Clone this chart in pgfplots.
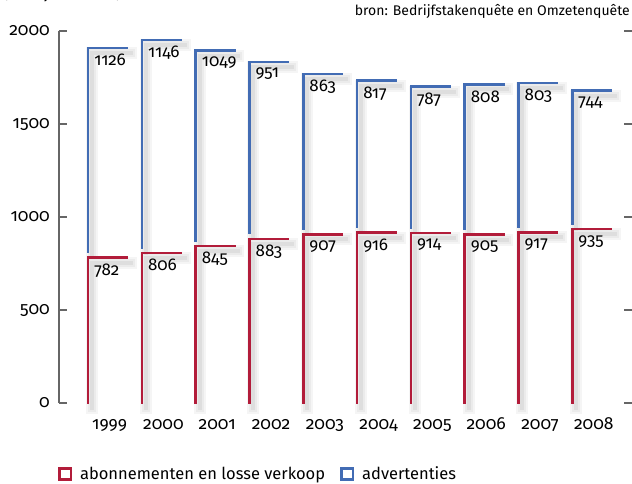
\documentclass[border=0pt]{standalone}
\usepackage{pgfplots}
\pgfplotsset{compat=1.18}
\usepackage{pgfplotstable}
\usepackage{fontspec}
\setmainfont{Fira Sans}[Numbers=OldStyle]
\definecolor{cbsred}{RGB}{178,28,58}
\definecolor{cbsblue}{RGB}{66,108,180}
\pgfplotstableread{
x year abon adv
0 1999 782 1126
1 2000 806 1146
2 2001 845 1049
3 2002 883 951
4 2003 907 863
5 2004 916 817
6 2005 914 787
7 2006 905 808
8 2007 917 803
9 2008 935 744
}\datatable
\pgfplotsset{
  bracket/.style 2 args={no markers, draw=none, forget plot,
    error bars/y dir=minus, error bars/y explicit, error bars/x dir=plus, error bars/x fixed=0.72,
    error bars/error mark=none,
    error bars/error bar style={draw=#2, line width=#1, line cap=rect}},
  shadow/.style={xshift=4pt, yshift=-5pt},
  lbl/.style={nodes near coords, point meta=explicit,
  every node near coord/.append style={anchor=north west, inner sep=0pt, xshift=6pt, yshift=-6pt,
    font=\fontsize{17}{20}\selectfont, color=black}},
}
\begin{document}
\begin{tikzpicture}[x=1pt,y=1pt]
\begin{axis}[
  at={(59pt,-403pt)}, anchor=south west,
  scale only axis, width=573pt, height=372pt,
  xmin=-0.54, xmax=10.11, ymin=0, ymax=2000,
  axis line style={draw=none},
  xtick={0.4,1.4,...,9.4},
  xticklabels={1999,2000,2001,2002,2003,2004,2005,2006,2007,2008},
  x tick style={draw=none},
  xticklabel style={anchor=base, yshift=-26pt},
  ytick={0,500,1000,1500,2000},
  ytick pos=both, yticklabel pos=left,
  tick align=inside,
  y tick style={gray!80!black, line width=1.2pt},
  major tick length=8pt,
  yticklabel style={inner sep=0pt, xshift=-9pt},
  /pgf/number format/assume math mode=true,
  /pgf/number format/set thousands separator={},
  tick label style={font=\fontsize{17.5}{20}\selectfont},
  clip=false,
  legend style={at={(axis description cs:-0.002,-0.191)}, anchor=west, draw=none, fill=none,
    font=\fontsize{16.5}{19}\selectfont, legend columns=2, inner sep=0pt,
    /tikz/every odd column/.append style={column sep=6pt},
    /tikz/every even column/.append style={column sep=13pt}},
  legend cell align=left,
]
% left axis line
\draw[gray!80!black, line width=1.5pt] (rel axis cs:0,0) -- (rel axis cs:0,1);
% shadows
\addplot[bracket={12pt}{black!4}, shadow] table[x=x, y=abon, y error expr=\thisrow{abon}] {\datatable};
\addplot[bracket={12pt}{black!4}, shadow] table[x=x, y expr=\thisrow{abon}+\thisrow{adv}, y error expr=\thisrow{adv}-30] {\datatable};
\addplot[bracket={8pt}{black!8}, shadow] table[x=x, y=abon, y error expr=\thisrow{abon}] {\datatable};
\addplot[bracket={8pt}{black!8}, shadow] table[x=x, y expr=\thisrow{abon}+\thisrow{adv}, y error expr=\thisrow{adv}-30] {\datatable};
\addplot[bracket={4pt}{black!13}, shadow] table[x=x, y=abon, y error expr=\thisrow{abon}] {\datatable};
\addplot[bracket={4pt}{black!13}, shadow] table[x=x, y expr=\thisrow{abon}+\thisrow{adv}, y error expr=\thisrow{adv}-30] {\datatable};
% red
\addplot[bracket={2.5pt}{cbsred}, lbl]
  table[x=x, y=abon, y error expr=\thisrow{abon}, meta=abon] {\datatable};
% blue
\addplot[bracket={2.5pt}{cbsblue}, lbl]
  table[x=x, y expr=\thisrow{abon}+\thisrow{adv}, y error expr=\thisrow{adv}-30, meta=adv] {\datatable};
\addlegendimage{legend image code/.code={\draw[cbsred, line width=2.5pt] (1.25pt,-5.5pt) rectangle (12.75pt,5.5pt);}}
\addlegendentry{abonnementen en losse verkoop}
\addlegendimage{legend image code/.code={\draw[cbsblue, line width=2.5pt] (1.25pt,-5.5pt) rectangle (12.75pt,5.5pt);}}
\addlegendentry{advertenties}
\end{axis}
\node[anchor=base east, inner sep=0pt, font=\fontsize{14}{16}\selectfont] at (630pt,-16pt) {bron: Bedrijfstakenquête en Omzetenquête};
\node[anchor=base west, inner sep=0pt, font=\fontsize{16.5}{19}\selectfont] at (3pt,1pt) {(x miljoen euro)};
\pgfresetboundingbox
\useasboundingbox (0pt,0pt) rectangle (632pt,-484pt);
\end{tikzpicture}
\end{document}
